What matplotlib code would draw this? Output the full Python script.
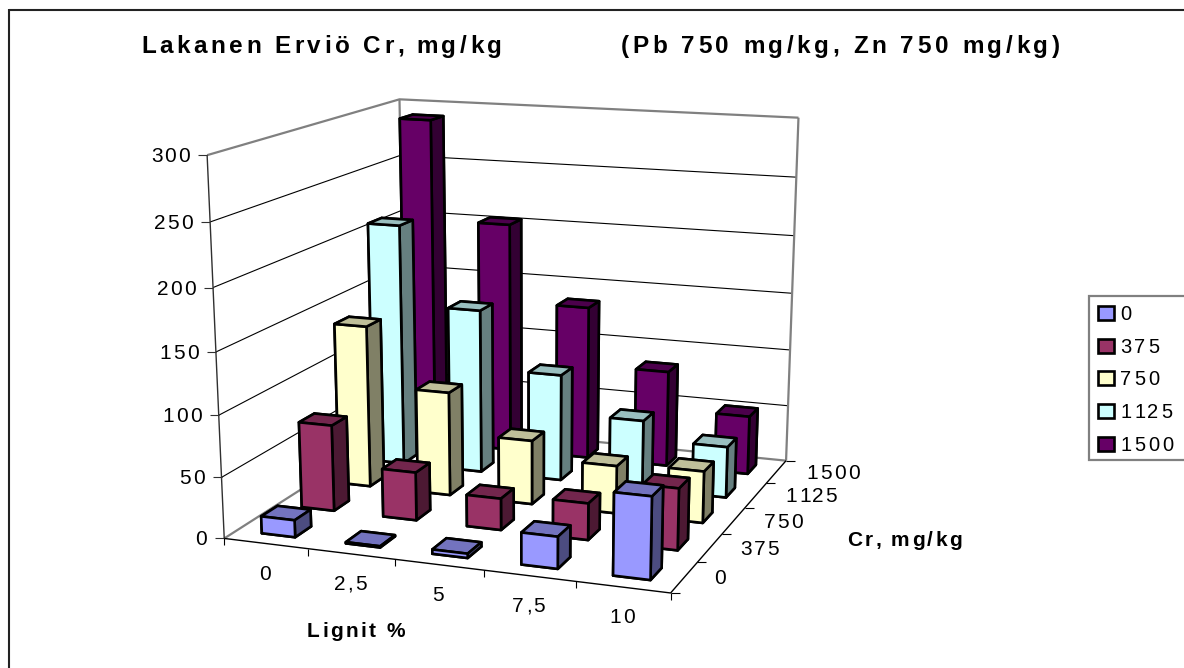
import numpy as np
import matplotlib
matplotlib.use('Agg')
import matplotlib.pyplot as plt
from matplotlib.lines import Line2D
from matplotlib.patches import Rectangle
from matplotlib.text import Text
from matplotlib.transforms import Bbox, IdentityTransform
from mpl_toolkits.mplot3d import Axes3D  # noqa: F401

# --- Data ---
LIGNITE = ['0', '2,5', '5', '7,5', '10']
CR_LEVELS = ['0', '375', '750', '1125', '1500']
CR_0 = [14, 1, 3.5, 25.5, 65]
CR_375 = [72, 40, 26, 30, 50]
CR_750 = [138, 88, 54, 40, 43]
CR_1125 = [210, 142, 92, 59, 43.5]
CR_1500 = [290, 203, 135, 84, 51]
SERIES = [CR_0, CR_375, CR_750, CR_1125, CR_1500]
Z_TICKS = [0, 50, 100, 150, 200, 250, 300]

# --- Style ---
FRONT = ['#9999FF', '#993366', '#FFFFCC', '#CCFFFF', '#660066']
TOP = ['#7373BF', '#73264D', '#BFBF99', '#99BFBF', '#4C004C']
SIDE = ['#4C4C80', '#4C1933', '#808066', '#668080', '#330033']
GREY = '#808080'
WIDTH, HEIGHT = 1184, 668
BAR = 0.4
Z_UNIT = 60.0  # data units of z per box unit
FONT = ['Liberation Sans', 'DejaVu Sans']

# Where chart-box locations land on the canvas, used to solve the camera
CAMERA_REF = [
    (0, 0, 0, 225, 539), (5, 0, 0, 670, 592), (5, 5, 0, 786, 461),
    (0, 5, 0, 405, 422), (0, 0, 300, 207, 155), (0, 5, 300, 399, 100),
    (5, 5, 300, 799, 118), (1, 0, 0, 308, 550), (2, 0, 0, 395, 560),
    (3, 0, 0, 484, 571), (4, 0, 0, 576, 582), (5, 1, 0, 697, 562),
    (5, 2, 0, 722, 533), (5, 3, 0, 745, 508), (5, 4, 0, 767, 483),
    (0, 0, 50, 222, 477), (0, 0, 100, 219, 415), (0, 0, 150, 216, 351),
    (0, 0, 200, 213, 287), (0, 0, 250, 210, 222),
]


class TrackedText(Text):
    """Text drawn with extra pixels between the letters."""

    def __init__(self, *args, tracking=0.0, **kwargs):
        super().__init__(*args, **kwargs)
        self.tracking = tracking

    def _layout_x(self, renderer):
        fp = self.get_fontproperties()
        s = self.get_text()

        def measure(part):
            return renderer.get_text_width_height_descent(part, fp, False)[0]

        bar = measure('|')
        offs = [measure(s[:i] + '|') - bar + i * self.tracking for i in range(len(s))]
        total = measure(s) + self.tracking * (len(s) - 1)
        x = self.get_transform().transform(self.get_position())[0]
        left = x - total * {'left': 0.0, 'center': 0.5, 'right': 1.0}[self.get_ha()]
        return left, offs, total

    def draw(self, renderer):
        left, offs, _ = self._layout_x(renderer)
        y = self.get_transform().transform(self.get_position())[1]
        for ch, off in zip(self.get_text(), offs):
            piece = Text(left + off, y, ch, fontproperties=self.get_fontproperties(), color=self.get_color(),
                         ha='left', va='baseline', transform=IdentityTransform())
            piece.set_figure(self.get_figure())
            piece.draw(renderer)

    def get_window_extent(self, renderer=None, dpi=None):
        if renderer is None:
            renderer = self.get_figure(root=True)._get_renderer()
        left, _, total = self._layout_x(renderer)
        bb = super().get_window_extent(renderer, dpi)
        return Bbox.from_extents(left, bb.y0, left + total, bb.y1)


def solve_camera(ref):
    """Least squares 3x4 projection from (x, y, z) to canvas pixels."""
    rows = []
    for x, y, z, u, v in ref:
        p = [x, y, z / Z_UNIT, 1]
        rows.append(p + [0, 0, 0, 0] + [-u * c for c in p])
        rows.append([0, 0, 0, 0] + p + [-v * c for c in p])
    _, _, vt = np.linalg.svd(np.array(rows, dtype=float))
    cam = vt[-1].reshape(3, 4)
    if cam[2, 3] < 0:
        cam = -cam
    return cam


def camera_matrix(ax, cam):
    """4x4 matrix for Axes3D: canvas pixels rescaled to the 2D view box."""
    x0, x1 = ax.viewLim.intervalx
    y0, y1 = ax.viewLim.intervaly
    to_view = np.array([
        [(x1 - x0) / WIDTH, 0, x0],
        [0, -(y1 - y0) / WIDTH, y1],
        [0, 0, 1],
    ])
    m = to_view @ cam
    # the square axes overhangs the canvas above and below
    m[1] -= (WIDTH - HEIGHT) / 2 * (y1 - y0) / WIDTH * m[2]
    out = np.zeros((4, 4))
    out[0], out[1], out[3] = m[0], m[1], m[2]
    out[2, 3] = -1.0  # depth grows away from the viewer
    return out


def to_px(cam, x, y, z):
    u, v, w = cam @ np.array([x, y, z / Z_UNIT, 1.0])
    return u / w, v / w


def line3d(ax, xs, ys, zs, color, lw, zorder=1):
    ax.plot(xs, ys, [z / Z_UNIT for z in zs], color=color, lw=lw, solid_capstyle='butt', zorder=zorder)


def line_px(fig, xs, ys, color='black', lw=0.8):
    fig.add_artist(Line2D(xs, [HEIGHT - y for y in ys], color=color, lw=lw, transform=IdentityTransform(),
                          solid_capstyle='butt'))


def text_px(fig, x, y, s, size=15, bold=False, ha='left', tracking=2.1):
    t = TrackedText(x, HEIGHT - y, s, tracking=tracking, transform=IdentityTransform(), fontsize=size,
                    fontweight='bold' if bold else 'normal', family=FONT, ha=ha, va='baseline', color='black')
    fig.add_artist(t)


fig = plt.figure(figsize=(WIDTH / 100, HEIGHT / 100), dpi=100)
ax = fig.add_axes([0, -(WIDTH - HEIGHT) / 2 / HEIGHT, 1, WIDTH / HEIGHT],
                  projection='3d', computed_zorder=False)
ax.set_axis_off()
ax.patch.set_alpha(0)
ax.set_xlim(0, 5)
ax.set_ylim(0, 5)
ax.set_zlim(0, 5)
CAM = solve_camera(CAMERA_REF)
M = camera_matrix(ax, CAM)
ax.get_proj = lambda: M

# Walls: grey outline, black gridlines
for z in Z_TICKS[1:-1]:
    line3d(ax, [0, 0, 5], [0, 5, 5], [z] * 3, 'black', 0.8)
line3d(ax, [0, 0, 5, 5], [0, 5, 5, 5], [300] * 4, GREY, 1.6)
line3d(ax, [0, 0], [5, 5], [0, 300], GREY, 1.6)
line3d(ax, [5, 5], [5, 5], [0, 300], GREY, 1.6)
line3d(ax, [0, 0, 5], [0, 5, 5], [0, 0, 0], GREY, 1.6)

# Axis lines
line3d(ax, [0, 0], [0, 0], [0, 300], '#303030', 1.0, 2)
line3d(ax, [0, 5, 5], [0, 0, 5], [0, 0, 0], 'black', 1.0, 2)

# Tick marks stay upright on the canvas, labels sit a fixed offset away
for z in Z_TICKS:
    px, py = to_px(CAM, 0, 0, z)
    line_px(fig, [px - 9, px], [py, py], '#303030')
    text_px(fig, px - 17, py + 7, str(z), ha='right')
for i in range(6):
    px, py = to_px(CAM, i, 0, 0)
    line_px(fig, [px, px], [py, py + 7])
    px, py = to_px(CAM, 5, i, 0)
    line_px(fig, [px, px + 9], [py, py])
for i, lab in enumerate(LIGNITE):
    px, py = to_px(CAM, i + 0.5, 0, 0)
    text_px(fig, px - 1, py + 36, lab, ha='center')
for i, lab in enumerate(CR_LEVELS):
    px, py = to_px(CAM, 5, i + 0.5, 0)
    text_px(fig, px + 30, py + 7, lab)

# Bars drawn back to front so nearer ones cover the far ones
order = 10
for j in range(4, -1, -1):
    for i in range(5):
        # bar3d face order: bottom, top, front, back, left, right
        faces = [TOP[j], TOP[j], FRONT[j], FRONT[j], SIDE[j], SIDE[j]]
        ax.bar3d(i + 0.5 - BAR / 2, j + 0.5 - BAR / 2, 0, BAR, BAR, SERIES[j][i] / Z_UNIT,
                 color=faces, shade=False, edgecolor='black', linewidth=1.9,
                 zorder=order, zsort='average')
        order += 1

# Text outside the plot box
text_px(fig, 141, 53, 'Lakanen Erviö Cr, mg/kg', size=17.5, bold=True, tracking=3.5)
text_px(fig, 621, 53, '(Pb 750 mg/kg, Zn 750 mg/kg)', size=17.5, bold=True, tracking=3.6)
text_px(fig, 307, 637, 'Lignit %', bold=True, tracking=2.4)
text_px(fig, 847, 546, 'Cr, mg/kg', bold=True, tracking=2.5)

# Legend box runs off the right side of the canvas
fig.add_artist(Rectangle((1089, HEIGHT - 460), 120, 164, transform=IdentityTransform(), facecolor='white',
                         edgecolor=GREY, lw=1.6))
for k, lab in enumerate(CR_LEVELS):
    top = 306 + k * 32.7
    fig.add_artist(Rectangle((1098, HEIGHT - top - 14), 16, 14, transform=IdentityTransform(),
                             facecolor=FRONT[k], edgecolor='black', lw=1.9, zorder=3))
    text_px(fig, 1120, top + 14, lab, size=14.5, tracking=3.0)

# Chart frame: only the top and left edges fall on the canvas
line_px(fig, [9, WIDTH], [9.5, 9.5], '#222222', 1.5)
line_px(fig, [9, 9], [9, HEIGHT], '#222222', 1.5)

fig.savefig('out.png', dpi=100)
